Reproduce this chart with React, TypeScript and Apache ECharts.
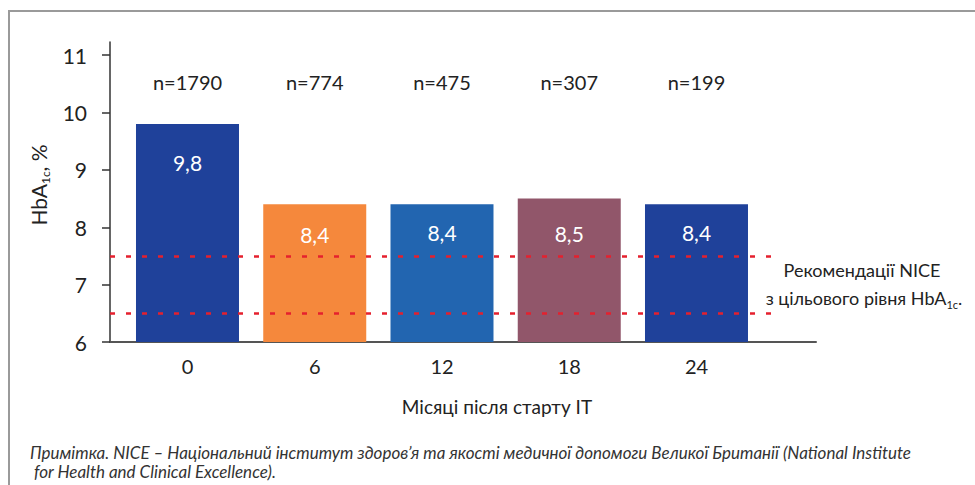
import React, { useEffect, useRef } from "react";
import * as echarts from "echarts";

// ---- data ----
const months = [0, 6, 12, 18, 24];
const hba1c = [9.8, 8.4, 8.4, 8.5, 8.4];
const valueLabels = ["9,8", "8,4", "8,4", "8,5", "8,4"];
const nValues = [1790, 774, 475, 307, 199];
const niceTargets = [7.5, 6.5];
const yTicks = [6, 7, 8, 9, 10, 11];

// ---- styles ----
const barColors = ["#1f419a", "#f5883c", "#2265b0", "#91566a", "#1f419a"];
const labelDistances = [28, 20, 18, 24, 18];
const FONT = "Lato";
const TXT = "#222";

export default function App() {
  const ref = useRef<HTMLDivElement>(null);
  useEffect(() => {
    if (!ref.current) return;
    const chart = echarts.init(ref.current, null, { renderer: "svg" });
    const xMin = -3.654;
    const xMax = 29.635;
    const redEnd = 27.94;
    const nLevel = 10.53;
    chart.setOption({
      animation: false,
      textStyle: { fontFamily: FONT },
      grid: { left: 110, right: 159, top: 42, bottom: 143, containLabel: false },
      xAxis: {
        type: "value",
        min: xMin,
        max: xMax,
        splitLine: { show: false },
        axisTick: { show: false },
        axisLine: { show: true, onZero: false, lineStyle: { color: "#555", width: 2 } },
        axisLabel: {
          customValues: months,
          formatter: (v: number) => String(v),
          fontSize: 20,
          color: TXT,
          margin: 14,
          fontFamily: FONT,
        },
      },
      yAxis: {
        type: "value",
        min: 6,
        max: 11.23,
        splitLine: { show: false },
        axisLine: { show: true, onZero: false, lineStyle: { color: "#333", width: 1.5 } },
        axisTick: { show: true, customValues: yTicks, length: 8, lineStyle: { color: "#333", width: 1.5 } },
        axisLabel: {
          customValues: yTicks,
          fontSize: 21,
          color: TXT,
          margin: 23,
          fontFamily: FONT,
        },
      },
      series: [
        {
          type: "bar",
          barWidth: 103,
          data: months.map((m, i) => ({
            value: [m, hba1c[i]],
            itemStyle: { color: barColors[i] },
            label: { distance: labelDistances[i] },
          })),
          label: {
            show: true,
            position: "insideTop",
            formatter: (p: any) => valueLabels[p.dataIndex],
            color: "#fff",
            fontSize: 21,
            fontFamily: FONT,
          },
          z: 2,
        },
        {
          type: "scatter",
          symbolSize: 0,
          itemStyle: { opacity: 1 },
          data: months.map((m) => [m, nLevel]),
          label: {
            show: true,
            position: "inside",
            formatter: (p: any) => "n=" + nValues[p.dataIndex],
            color: TXT,
            fontSize: 20,
            fontFamily: FONT,
          },
          markLine: {
            silent: true,
            symbol: "none",
            label: { show: false },
            lineStyle: { color: "#e5202e", width: 2.5, type: [5, 11], opacity: 1 },
            data: niceTargets.map((v) => [
              { coord: [xMin, v] },
              { coord: [redEnd, v] },
            ]),
          },
          z: 5,
        },
      ],
      graphic: [
        {
          type: "rect",
          shape: { x: 9, y: 11, width: 1200, height: 1000 },
          style: { fill: "none", stroke: "#9a9a9a", lineWidth: 2 },
          silent: true,
        },
        {
          type: "text",
          x: 38,
          y: 185,
          rotation: Math.PI / 2,
          style: {
            text: "{a|HbA}{s|1c}{a|, %}",
            align: "center",
            verticalAlign: "middle",
            rich: {
              a: { fontSize: 21, fontFamily: FONT, fill: TXT, lineHeight: 26 },
              s: { fontSize: 12, fontFamily: FONT, fill: TXT, lineHeight: 10, verticalAlign: "bottom" },
            },
          },
        },
        {
          type: "text",
          x: 497,
          y: 406,
          style: {
            text: "Місяці після старту IT",
            align: "center",
            verticalAlign: "middle",
            fontSize: 19,
            fontFamily: FONT,
            fill: TXT,
          },
        },
        {
          type: "text",
          x: 862,
          y: 270,
          style: {
            text: "Рекомендації NICE",
            align: "center",
            verticalAlign: "middle",
            fontSize: 18,
            fontFamily: FONT,
            fill: TXT,
          },
        },
        {
          type: "text",
          x: 864,
          y: 298,
          style: {
            text: "{a|з цільового рівня HbA}{s|1c}{a|.}",
            align: "center",
            verticalAlign: "middle",
            rich: {
              a: { fontSize: 18, fontFamily: FONT, fill: TXT, lineHeight: 24 },
              s: { fontSize: 11, fontFamily: FONT, fill: TXT, lineHeight: 8, verticalAlign: "bottom" },
            },
          },
        },
        {
          type: "text",
          x: 30,
          y: 452,
          style: {
            text: "Примітка. NICE – Національний інститут здоров’я та якості медичної допомоги Великої Британії (National Institute",
            align: "left",
            verticalAlign: "middle",
            fontSize: 17,
            fontStyle: "italic",
            fontFamily: FONT,
            fill: "#333",
          },
        },
        {
          type: "text",
          x: 30,
          y: 471,
          style: {
            text: " for Health and Clinical Excellence).",
            align: "left",
            verticalAlign: "middle",
            fontSize: 17,
            fontStyle: "italic",
            fontFamily: FONT,
            fill: "#333",
          },
        },
      ],
    });
    return () => chart.dispose();
  }, []);
  return (
    <div
      ref={ref}
      style={{ position: "absolute", left: 0, top: 0, width: 975, height: 485, background: "#fff" }}
    />
  );
}
